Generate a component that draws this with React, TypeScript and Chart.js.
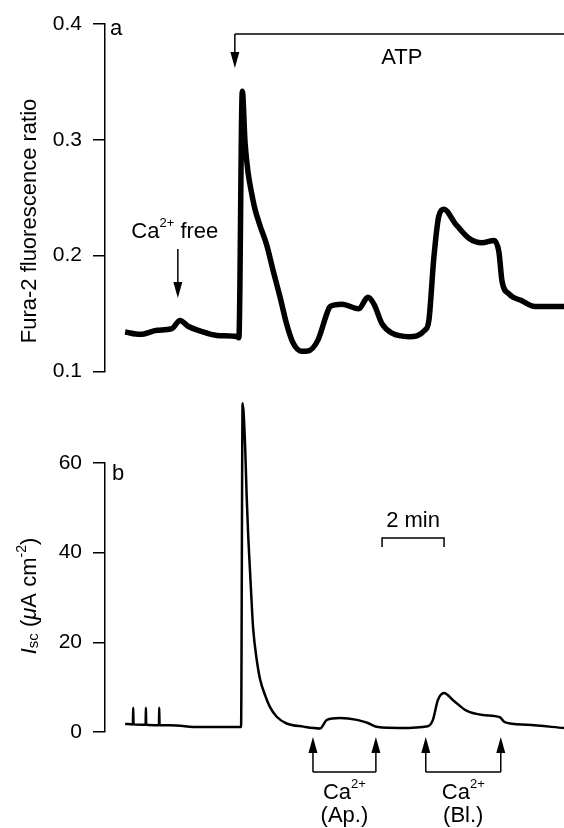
import React, { useEffect, useRef } from "react";
import { Chart, registerables } from "chart.js";

Chart.register(...registerables);

// ---- data (time in minutes from the left axis) ----
const TOP_TIME = [0.65, 1.13, 1.68, 2.16, 2.42, 2.68, 3.06, 3.61, 4.26, 4.32, 4.43, 4.52, 4.62, 4.73, 4.84, 5.00, 5.22, 5.43, 5.65, 5.86, 6.07, 6.34, 6.55, 6.87, 7.16, 7.26, 7.65, 8.19, 8.48, 8.68, 8.94, 9.26, 9.81, 10.32, 10.45, 10.61, 10.77, 10.94, 11.29, 11.74, 12.16, 12.55, 12.71, 12.81, 13.03, 13.45, 13.87, 14.81];
const TOP_RATIO = [0.134, 0.132, 0.1355, 0.137, 0.144, 0.139, 0.135, 0.131, 0.130, 0.129, 0.342, 0.297, 0.271, 0.254, 0.240, 0.226, 0.209, 0.1865, 0.164, 0.141, 0.1245, 0.1175, 0.1177, 0.127, 0.150, 0.156, 0.158, 0.154, 0.164, 0.158, 0.141, 0.133, 0.130, 0.1355, 0.144, 0.198, 0.234, 0.240, 0.228, 0.215, 0.211, 0.213, 0.203, 0.178, 0.167, 0.161, 0.156, 0.156];

const BOT_TIME = [0.65, 0.90, 0.91, 0.92, 1.31, 1.32, 1.33, 1.74, 1.75, 1.76, 2.10, 3.06, 4.35, 4.39, 4.44, 4.52, 4.57, 4.62, 4.68, 4.73, 4.78, 4.89, 5.00, 5.16, 5.32, 5.54, 5.86, 6.40, 6.94, 7.16, 7.58, 8.13, 8.48, 8.81, 9.52, 10.42, 10.58, 10.74, 10.94, 11.23, 11.68, 12.19, 12.74, 12.90, 13.61, 14.81];
const BOT_ISC = [1.8, 1.7, 5.4, 1.7, 1.6, 5.4, 1.6, 1.5, 5.4, 1.5, 1.5, 1.1, 1.1, 1.1, 73.3, 64.0, 52.8, 43.9, 35.8, 29.1, 23.1, 16.4, 11.9, 8.3, 5.6, 3.4, 1.9, 1.2, 0.8, 2.7, 3.1, 2.7, 2.0, 1.1, 0.9, 1.3, 2.7, 7.1, 8.7, 7.1, 4.7, 3.8, 3.3, 2.2, 1.6, 0.9];

const TOP_TICKS = [0.1, 0.2, 0.3, 0.4];
const BOT_TICKS = [0, 20, 40, 60];

const X_MAX = 14.81;
const ATP_TIME = 4.19;
const ATP_LABEL_TIME = 9.58;
const CA_FREE_TIME = 2.35;
const SCALE_BAR = [8.94, 10.94];
const CA_PAIRS = [
  { start: 6.71, end: 8.74, label: "(Ap.)" },
  { start: 10.35, end: 12.77, label: "(Bl.)" },
];

const FONT = '"Liberation Sans", Arial, Helvetica, sans-serif';
const AXIS_X = 105;
const TOP_H = 395;
const BOT_H = 433;

function arrowDown(ctx: CanvasRenderingContext2D, x: number, y0: number, tip: number) {
  ctx.beginPath();
  ctx.moveTo(x, y0);
  ctx.lineTo(x, tip - 12);
  ctx.stroke();
  ctx.beginPath();
  ctx.moveTo(x - 4.5, tip - 16);
  ctx.lineTo(x + 4.5, tip - 16);
  ctx.lineTo(x, tip);
  ctx.closePath();
  ctx.fill();
}

function arrowUp(ctx: CanvasRenderingContext2D, x: number, y0: number, tip: number) {
  ctx.beginPath();
  ctx.moveTo(x, y0);
  ctx.lineTo(x, tip + 12);
  ctx.stroke();
  ctx.beginPath();
  ctx.moveTo(x - 4.5, tip + 16);
  ctx.lineTo(x + 4.5, tip + 16);
  ctx.lineTo(x, tip);
  ctx.closePath();
  ctx.fill();
}

type Seg = { t: string; font: string; dy?: number };

function drawSegs(ctx: CanvasRenderingContext2D, segs: Seg[], cx: number, baseline: number) {
  let total = 0;
  const widths = segs.map((s) => {
    ctx.font = s.font;
    const w = ctx.measureText(s.t).width;
    total += w;
    return w;
  });
  let x = cx - total / 2;
  ctx.textAlign = "left";
  ctx.textBaseline = "alphabetic";
  segs.forEach((s, i) => {
    ctx.font = s.font;
    ctx.fillText(s.t, x, baseline + (s.dy || 0));
    x += widths[i];
  });
}

function yAxis(min: number, max: number, ticks: number[], fmt: (v: number) => string) {
  return {
    min,
    max,
    afterFit: (s: any) => {
      s.width = AXIS_X;
    },
    afterBuildTicks: (s: any) => {
      s.ticks = ticks.map((v) => ({ value: v }));
    },
    grid: { drawOnChartArea: false, drawTicks: true, tickLength: 12, color: "#000", lineWidth: 1.5 },
    border: { display: true, color: "#000", width: 1.5 },
    ticks: { color: "#000", padding: 11, font: { family: FONT, size: 21 }, callback: (v: any) => fmt(Number(v)) },
  };
}

const topAnnotations = {
  id: "topAnnotations",
  afterDraw(chart: any) {
    const ctx: CanvasRenderingContext2D = chart.ctx;
    const xs = chart.scales.x;
    ctx.save();
    ctx.strokeStyle = "#000";
    ctx.fillStyle = "#000";
    ctx.lineWidth = 1.5;
    // ATP bracket
    const ax = xs.getPixelForValue(ATP_TIME);
    ctx.beginPath();
    ctx.moveTo(chart.width, 34);
    ctx.lineTo(ax, 34);
    ctx.stroke();
    arrowDown(ctx, ax, 34, 68);
    ctx.font = `22px ${FONT}`;
    ctx.textAlign = "center";
    ctx.textBaseline = "alphabetic";
    ctx.fillText("ATP", xs.getPixelForValue(ATP_LABEL_TIME), 64);
    // Ca2+ free
    const cx = xs.getPixelForValue(CA_FREE_TIME);
    drawSegs(
      ctx,
      [
        { t: "Ca", font: `22px ${FONT}` },
        { t: "2+", font: `13px ${FONT}`, dy: -11 },
        { t: " free", font: `22px ${FONT}` },
      ],
      cx - 3,
      238
    );
    arrowDown(ctx, cx, 249, 298);
    // panel letter
    ctx.font = `22px ${FONT}`;
    ctx.textAlign = "left";
    ctx.fillText("a", 110, 35);
    // y title
    ctx.save();
    ctx.translate(36, 221);
    ctx.rotate(-Math.PI / 2);
    ctx.textAlign = "center";
    ctx.font = `22px ${FONT}`;
    ctx.fillText("Fura-2 fluorescence ratio", 0, 0);
    ctx.restore();
    ctx.restore();
  },
};

const OFF = TOP_H;

const botAnnotations = {
  id: "botAnnotations",
  afterDraw(chart: any) {
    const ctx: CanvasRenderingContext2D = chart.ctx;
    const xs = chart.scales.x;
    ctx.save();
    ctx.strokeStyle = "#000";
    ctx.fillStyle = "#000";
    ctx.lineWidth = 1.5;
    // panel letter
    ctx.font = `22px ${FONT}`;
    ctx.textAlign = "left";
    ctx.textBaseline = "alphabetic";
    ctx.fillText("b", 112, 480 - OFF);
    // scale bar
    const s1 = xs.getPixelForValue(SCALE_BAR[0]);
    const s2 = xs.getPixelForValue(SCALE_BAR[1]);
    ctx.beginPath();
    ctx.moveTo(s1, 547 - OFF);
    ctx.lineTo(s1, 538 - OFF);
    ctx.lineTo(s2, 538 - OFF);
    ctx.lineTo(s2, 547 - OFF);
    ctx.stroke();
    ctx.textAlign = "center";
    ctx.fillText("2 min", (s1 + s2) / 2, 527 - OFF);
    // Ca2+ application brackets
    CA_PAIRS.forEach((p) => {
      const a = xs.getPixelForValue(p.start);
      const b = xs.getPixelForValue(p.end);
      ctx.beginPath();
      ctx.moveTo(a, 772 - OFF);
      ctx.lineTo(b, 772 - OFF);
      ctx.stroke();
      arrowUp(ctx, a, 772 - OFF, 737 - OFF);
      arrowUp(ctx, b, 772 - OFF, 737 - OFF);
      const mid = (a + b) / 2;
      drawSegs(
        ctx,
        [
          { t: "Ca", font: `22px ${FONT}` },
          { t: "2+", font: `13px ${FONT}`, dy: -11 },
        ],
        mid,
        799 - OFF
      );
      ctx.font = `22px ${FONT}`;
      ctx.textAlign = "center";
      ctx.fillText(p.label, mid, 822 - OFF);
    });
    // y title: I_sc (μA cm^-2)
    ctx.save();
    ctx.translate(36, 596 - OFF);
    ctx.rotate(-Math.PI / 2);
    drawSegs(
      ctx,
      [
        { t: "I", font: `italic 22px ${FONT}` },
        { t: "sc", font: `15px ${FONT}`, dy: 2 },
        { t: " (", font: `22px ${FONT}` },
        { t: "\u03bc", font: `italic 22px ${FONT}` },
        { t: "A cm", font: `22px ${FONT}` },
        { t: "-2", font: `14px ${FONT}`, dy: -10 },
        { t: ")", font: `22px ${FONT}` },
      ],
      0,
      0
    );
    ctx.restore();
    ctx.restore();
  },
};

function baseOptions(yCfg: any, padTop: number, padBottom: number) {
  return {
    responsive: false,
    animation: false as const,
    devicePixelRatio: 1,
    events: [],
    layout: { padding: { top: padTop, bottom: padBottom, left: 0, right: 0 } },
    plugins: { legend: { display: false }, tooltip: { enabled: false } },
    scales: {
      x: { type: "linear" as const, min: 0, max: X_MAX, display: false },
      y: yCfg,
    },
  };
}

export default function App() {
  const topRef = useRef<HTMLCanvasElement>(null);
  const botRef = useRef<HTMLCanvasElement>(null);

  useEffect(() => {
    const top = new Chart(topRef.current as HTMLCanvasElement, {
      type: "line",
      data: {
        datasets: [
          {
            data: TOP_TIME.map((t, i) => ({ x: t, y: TOP_RATIO[i] })),
            borderColor: "#000",
            borderWidth: 5.5,
            borderJoinStyle: "round",
            pointRadius: 0,
            cubicInterpolationMode: "monotone",
            clip: false,
          } as any,
        ],
      },
      options: baseOptions(yAxis(0.1, 0.4, TOP_TICKS, (v) => v.toFixed(1)), 24, TOP_H - 379) as any,
      plugins: [topAnnotations],
    });
    const bot = new Chart(botRef.current as HTMLCanvasElement, {
      type: "line",
      data: {
        datasets: [
          {
            data: BOT_TIME.map((t, i) => ({ x: t, y: BOT_ISC[i] })),
            borderColor: "#000",
            borderWidth: 2.5,
            pointRadius: 0,
            cubicInterpolationMode: "monotone",
            clip: false,
          } as any,
        ],
      },
      options: baseOptions(yAxis(0, 60, BOT_TICKS, (v) => String(Math.round(v))), 463 - OFF, BOT_H - (732 - OFF)) as any,
      plugins: [botAnnotations],
    });
    return () => {
      top.destroy();
      bot.destroy();
    };
  }, []);

  return (
    <div style={{ position: "absolute", left: 0, top: 0, width: 564, height: 828, background: "#fff" }}>
      <canvas
        ref={topRef}
        width={564}
        height={TOP_H}
        style={{ position: "absolute", left: 0, top: 0, width: 564, height: TOP_H }}
      />
      <canvas
        ref={botRef}
        width={564}
        height={BOT_H}
        style={{ position: "absolute", left: 0, top: TOP_H, width: 564, height: BOT_H }}
      />
    </div>
  );
}
